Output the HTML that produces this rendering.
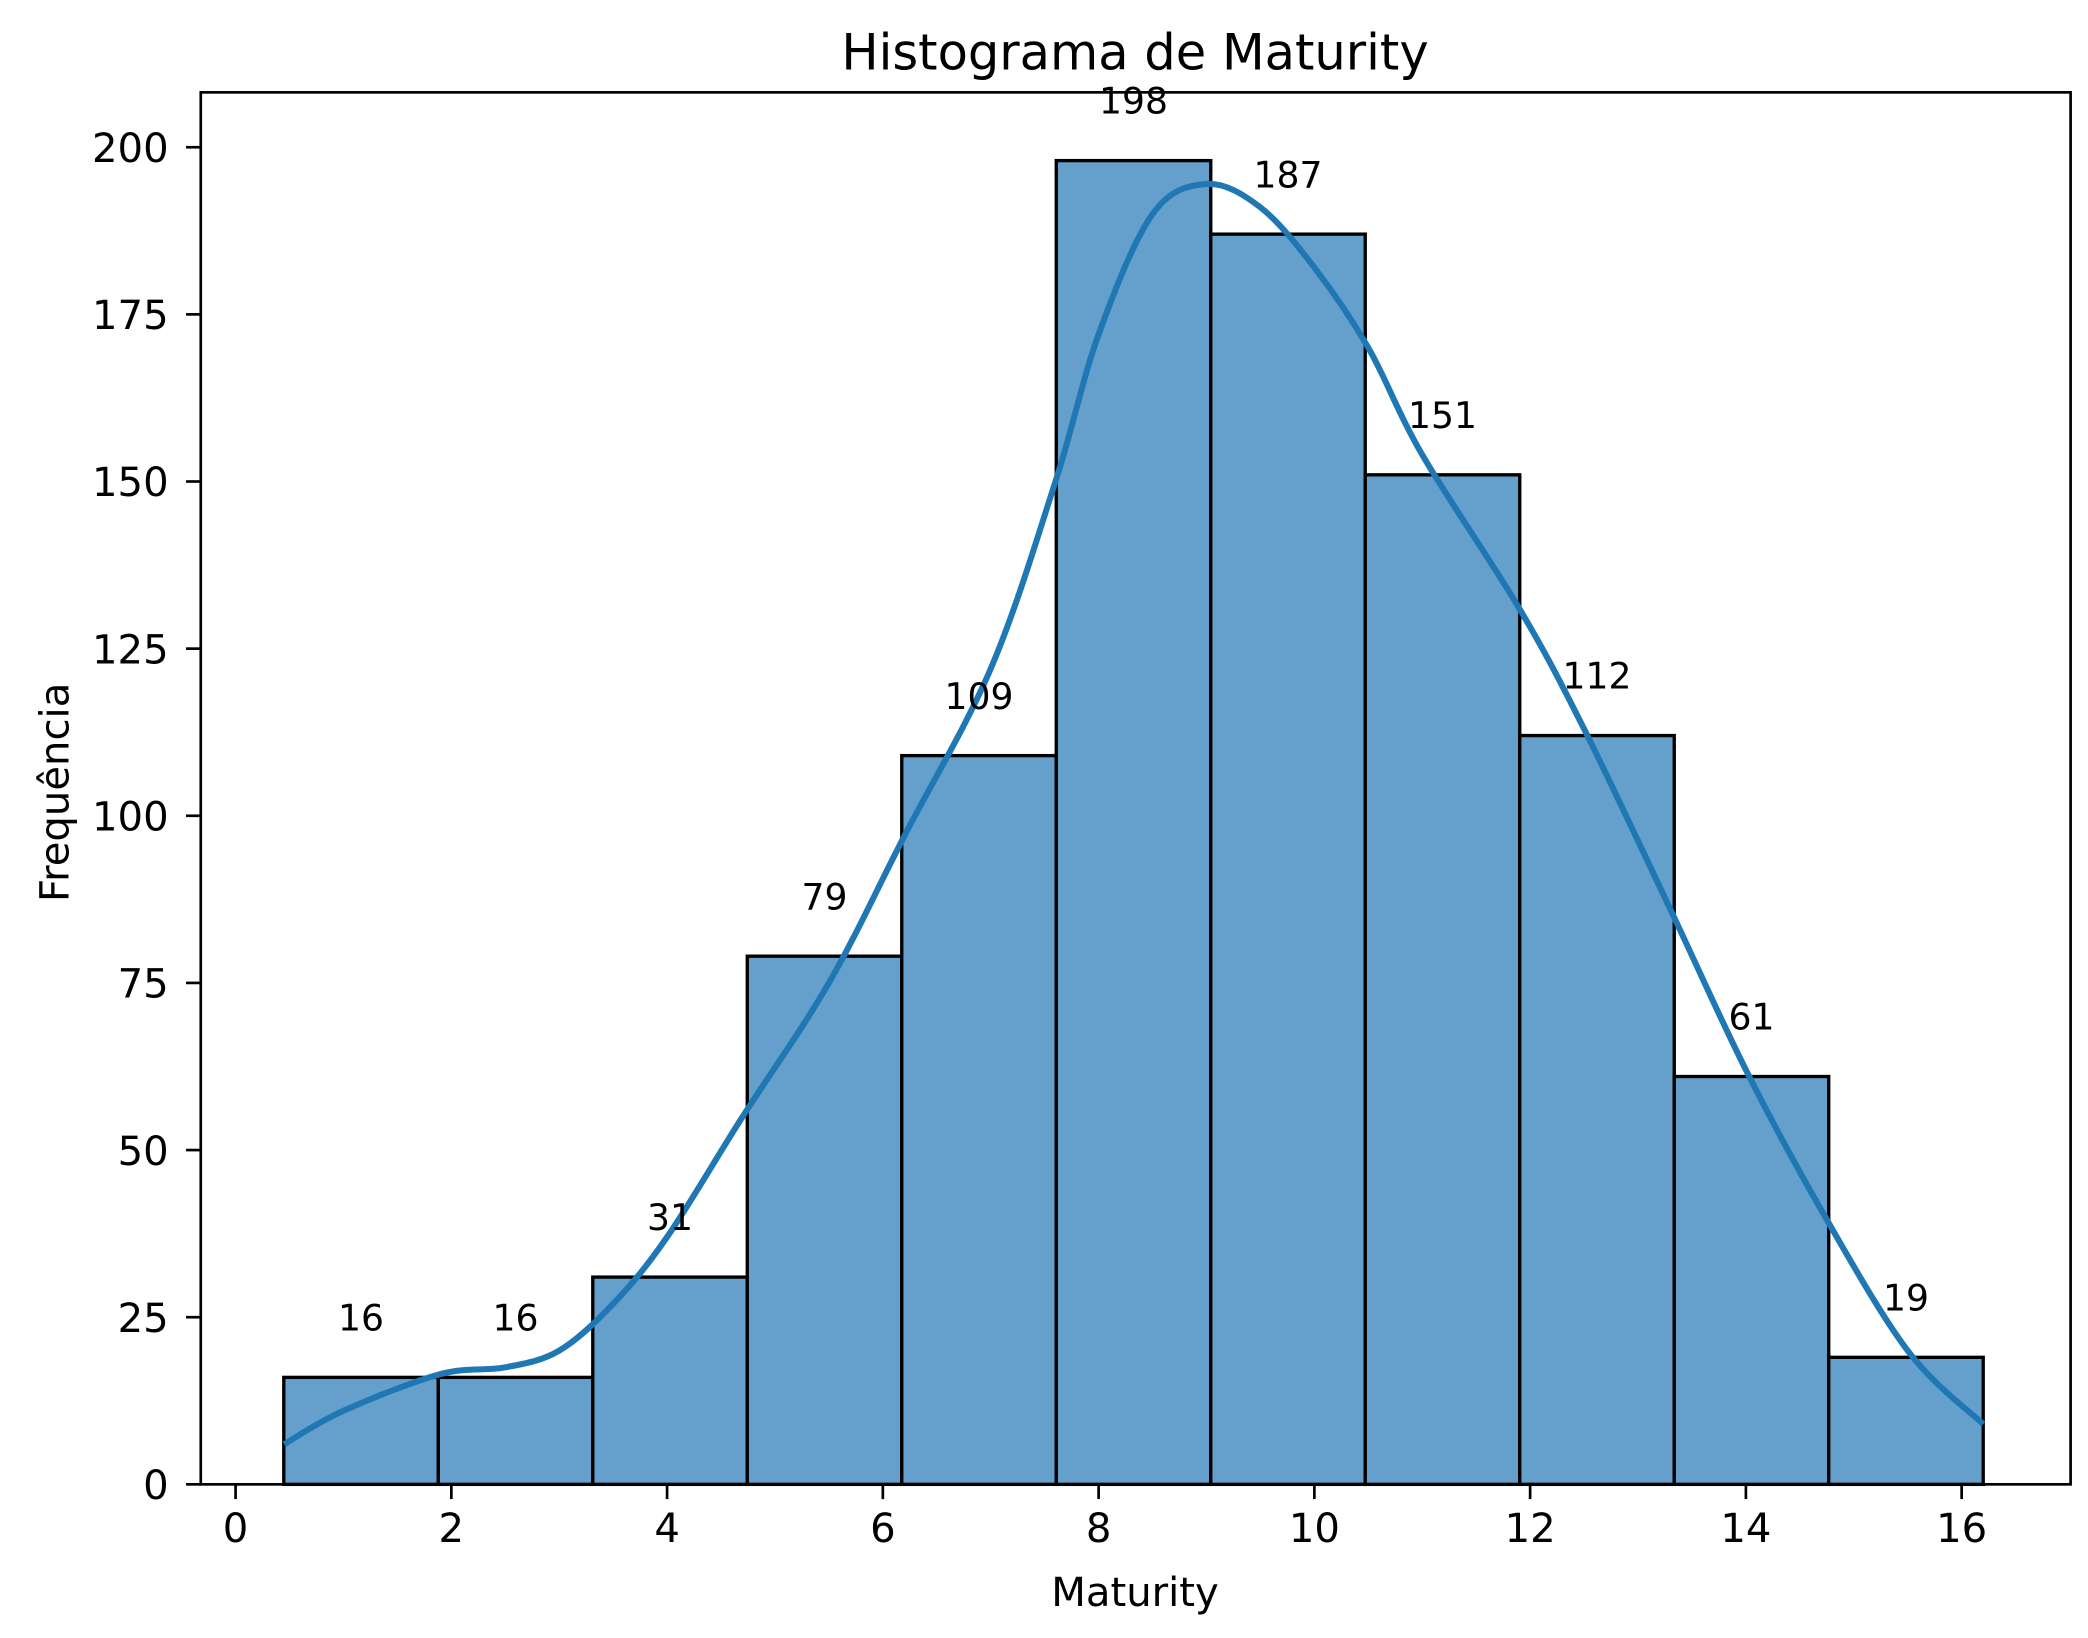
<!DOCTYPE html>
<html><head><meta charset="utf-8"><style>
html,body{margin:0;padding:0;background:#fff;}
svg{display:block;font-family:"DejaVu Sans","Liberation Sans",sans-serif;}
</style></head><body>
<svg id="chart" width="2088" height="1638" viewBox="0 0 1560 1223.8" preserveAspectRatio="none" xmlns="http://www.w3.org/2000/svg">
<rect width="1560" height="1224" fill="#fff"/>
<g id="bars"></g>
<path id="kde" fill="none" stroke="#1f77b4" stroke-width="4.5" stroke-linecap="butt"/>
<g id="ann"></g>
<rect x="150" y="69" width="1397" height="1040" fill="none" stroke="#000" stroke-width="2"/>
<g id="xt"></g><g id="yt"></g>
<text x="848" y="52" font-size="37" text-anchor="middle">Histograma de Maturity</text>
<text x="848" y="1200" font-size="30" text-anchor="middle">Maturity</text>
<text x="0" y="0" font-size="30" text-anchor="middle" transform="translate(51,592) rotate(-90)">Frequência</text>
</svg>
<script>
const counts=[16,16,31,79,109,198,187,151,112,61,19];
const binStart=0.447, binEnd=16.2;
const kdeX=[0.45,1,1.9,2.5,3,3.5,4,4.7,5.5,6.2,7,7.6,8,8.5,9,9.5,10,10.5,11,11.9,12.5,13.3,14,14.7,15.5,16.2];
const kdeY=[6,11,16.5,17.5,20,27,37,55,75,97,122,150,172,190,194.5,191,182,170,154,131,113,86,62,41,20,9];
const xTicks=[0,2,4,6,8,10,12,14,16];
const yTicks=[0,25,50,75,100,125,150,175,200];
const X=v=>176+v*80.6, Y=v=>1109-v*4.995;
const NS="http://www.w3.org/2000/svg";
function mk(t,a,p,txt){const e=document.createElementNS(NS,t);for(const k in a)e.setAttribute(k,a[k]);if(txt!==undefined)e.textContent=txt;p.appendChild(e);return e;}
const bw=(binEnd-binStart)/counts.length;
const bars=document.getElementById('bars'),ann=document.getElementById('ann');
counts.forEach((c,i)=>{
 const x0=X(binStart+i*bw),x1=X(binStart+(i+1)*bw);
 const r=mk('rect',{x:x0,y:Y(c),width:x1-x0,height:Y(0)-Y(c),fill:'#64a0cb',stroke:'#000','stroke-width':2.5},bars);
 
 
 const t=mk('text',{x:(x0+x1)/2,y:Y(c)-35,'font-size':27,'text-anchor':'middle'},ann,String(c));
 
 
});
const pts=kdeX.map((x,i)=>[X(x),Y(kdeY[i])]);
let d='M'+pts[0].join(',');
for(let i=0;i<pts.length-1;i++){const p0=pts[i-1]||pts[i],p1=pts[i],p2=pts[i+1],p3=pts[i+2]||p2;
 d+=` C${p1[0]+(p2[0]-p0[0])/6},${p1[1]+(p2[1]-p0[1])/6} ${p2[0]-(p3[0]-p1[0])/6},${p2[1]-(p3[1]-p1[1])/6} ${p2[0]},${p2[1]}`;}
document.getElementById('kde').setAttribute('d',d);
const xt=document.getElementById('xt'),yt=document.getElementById('yt');
xTicks.forEach(v=>{const l=mk('line',{x1:X(v),x2:X(v),y1:1109,y2:1120,stroke:'#000','stroke-width':2},xt);
 
 const t=mk('text',{x:X(v),y:1152,'font-size':30,'text-anchor':'middle'},xt,String(v));
 });
yTicks.forEach(v=>{const l=mk('line',{x1:139,x2:150,y1:Y(v),y2:Y(v),stroke:'#000','stroke-width':2},yt);
 
 const t=mk('text',{x:126,y:Y(v)+11,'font-size':30,'text-anchor':'end'},yt,String(v));
 });
</script>
</body></html>
